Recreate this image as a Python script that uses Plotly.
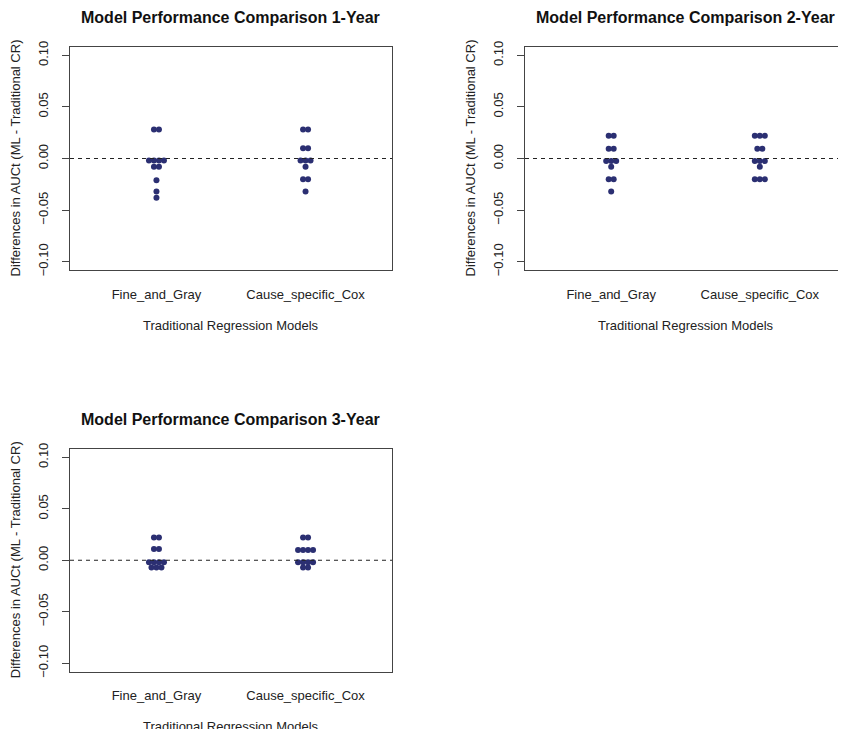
import plotly.graph_objects as go

# ---- data ----
categories = ["Fine_and_Gray", "Cause_specific_Cox"]
fg_1yr = [0.028, 0.028, -0.002, -0.002, -0.002, -0.002, -0.008, -0.008, -0.021, -0.032, -0.038]
csc_1yr = [0.028, 0.028, 0.010, 0.010, -0.002, -0.002, -0.002, -0.008, -0.020, -0.020, -0.032]
fg_2yr = [0.022, 0.022, 0.0095, 0.0095, -0.0025, -0.0025, -0.0025, -0.008, -0.020, -0.020, -0.032]
csc_2yr = [0.022, 0.022, 0.022, 0.0095, 0.0095, -0.0025, -0.0025, -0.0025, -0.008, -0.020, -0.020, -0.020]
fg_3yr = [0.022, 0.022, 0.011, 0.011, -0.002, -0.002, -0.002, -0.002, -0.007, -0.007, -0.007]
csc_3yr = [0.022, 0.022, 0.010, 0.010, 0.010, 0.010, -0.002, -0.002, -0.002, -0.002, -0.007, -0.007]
panel_titles = ["Model Performance Comparison 1-Year",
                "Model Performance Comparison 2-Year",
                "Model Performance Comparison 3-Year"]
y_tickvals = [-0.10, -0.05, 0.0, 0.05, 0.10]
y_title = "Differences in AUCt (ML - Traditional CR)"
x_title = "Traditional Regression Models"

panels = [(fg_1yr, csc_1yr), (fg_2yr, csc_2yr), (fg_3yr, csc_3yr)]

OFF = 8  # page body margin
W, H = 846 - OFF, 729 - OFF
FONT = "Liberation Sans, Arial, sans-serif"
DOT = "#2b2f72"
XR = [0.42, 2.58]
YR = [-0.108, 0.108]

# panel boxes in page pixels (left, right, top, bottom); titles y in page pixels
boxes = [(70, 392, 47, 270), (525, 846, 47, 270), (70, 392, 449, 671.5)]
title_ys = [18, 18, 419]


def swarm_offsets(vals, box_w):
    units_per_px = (XR[1] - XR[0]) / box_w
    spacing = 5.0 * units_per_px
    groups = {}
    for i, v in enumerate(vals):
        groups.setdefault(v, []).append(i)
    offs = [0.0] * len(vals)
    for v, idx in groups.items():
        n = len(idx)
        for k, i in enumerate(idx):
            offs[i] = (k - (n - 1) / 2) * spacing
    return offs


def px_x(v):
    return (v - OFF) / W


def px_y(v):
    return 1 - (v - OFF) / H


fig = go.Figure()
annotations = []
shapes = []
layout_axes = {}

for p, ((fg, csc), (l, r, t, b), title, ty) in enumerate(zip(panels, boxes, panel_titles, title_ys)):
    sfx = "" if p == 0 else str(p + 1)
    xa, ya = "x" + sfx, "y" + sfx
    box_w = r - l
    xs, ys = [], []
    for ci, vals in enumerate([fg, csc]):
        offs = swarm_offsets(vals, box_w)
        xs += [ci + 1 + o for o in offs]
        ys += list(vals)
    fig.add_trace(go.Scatter(x=xs, y=ys, mode="markers", xaxis=xa, yaxis=ya,
                             marker=dict(size=6, color=DOT, line=dict(width=0)),
                             showlegend=False, hoverinfo="y"))
    xd = [max(px_x(l), 0), min(px_x(r), 1.0)]
    yd = [max(px_y(b), 0), min(px_y(t), 1.0)]
    layout_axes["xaxis" + sfx] = dict(
        domain=xd, range=XR, anchor=ya, tickvals=[1, 2], ticktext=categories,
        ticks="outside", ticklen=12, tickcolor="rgba(0,0,0,0)", automargin=False,
        showline=True, mirror=True, linecolor="#444", linewidth=1,
        showgrid=False, zeroline=False, fixedrange=True,
        tickfont=dict(family=FONT, size=13, color="#222"))
    layout_axes["yaxis" + sfx] = dict(
        domain=yd, range=YR, anchor=xa, tickvals=y_tickvals, tickformat=".2f",
        ticks="outside", ticklen=7, tickcolor="#444", tickangle=-90,
        ticklabelstandoff=9, automargin=False,
        showline=True, mirror=True, linecolor="#444", linewidth=1,
        showgrid=False, zeroline=False, fixedrange=True,
        tickfont=dict(family=FONT, size=13, color="#222"))
    shapes.append(dict(type="line", xref=xa + " domain", yref=ya, x0=0, x1=1, y0=0, y1=0,
                       line=dict(color="#222", width=1, dash="4px,4px")))
    cx = px_x((l + r) / 2)
    annotations.append(dict(text="<b>" + title + "</b>", x=cx, y=px_y(ty), xref="paper", yref="paper",
                            showarrow=False, xanchor="center", yanchor="middle",
                            font=dict(family=FONT, size=16, color="#111")))
    annotations.append(dict(text=y_title, x=px_x(l - 55), y=px_y((t + b) / 2),
                            xref="paper", yref="paper", textangle=-90, showarrow=False,
                            xanchor="center", yanchor="middle",
                            font=dict(family=FONT, size=13, color="#222")))
    annotations.append(dict(text=x_title, x=cx, y=px_y(b + 55),
                            xref="paper", yref="paper", showarrow=False,
                            xanchor="center", yanchor="middle",
                            font=dict(family=FONT, size=13, color="#222")))

fig.update_layout(width=W, height=H, margin=dict(l=0, r=0, t=0, b=0, autoexpand=False),
                  paper_bgcolor="white", plot_bgcolor="white",
                  annotations=annotations, shapes=shapes, **layout_axes)
fig.write_html("out.html")
